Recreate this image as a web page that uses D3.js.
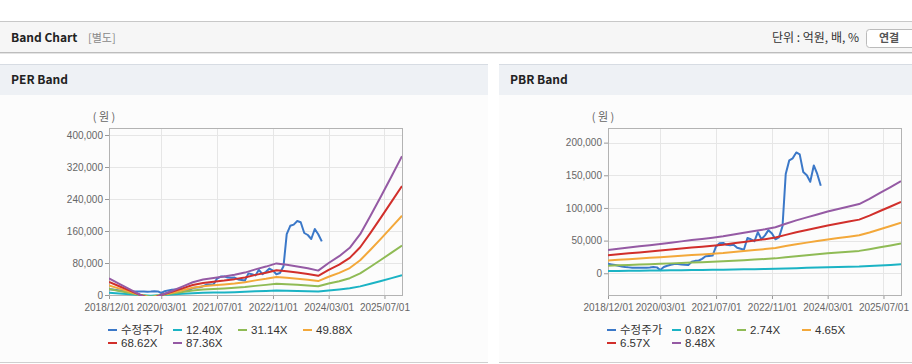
<!DOCTYPE html>
<html>
<head>
<meta charset="utf-8">
<script src="https://cdn.jsdelivr.net/npm/d3@7"></script>
<style>
  body { margin: 0; background: #fff; }
  svg { display: block; }
  .tick text { font-family: "Liberation Sans", "DejaVu Sans", sans-serif; font-size: 10px; fill: #666; }
  .tick line { stroke: #999; }
</style>
</head>
<body>
<svg id="page" width="912" height="364"></svg>
<script>
// ── Data ──────────────────────────────────────────────────────────────────
const BAND_MONTHS = [
  '2018-12','2019-03','2019-06','2019-09','2019-12','2020-03','2020-06','2020-09',
  '2020-12','2021-03','2021-06','2021-09','2021-12','2022-03','2022-06','2022-09',
  '2022-12','2023-03','2023-06','2023-09','2023-12','2024-03','2024-06','2024-09',
  '2024-12','2025-03','2025-06','2025-09','2025-12',
];

// EPS (원) behind the PER band lines
const PER_EPS = [
  477, 318, 159, 0, -137, 0, 114, 240,
  366, 441, 486, 527, 578, 641, 733, 813,
  904, 864, 818, 767, 698, 916, 1110, 1351,
  1740, 2266, 2827, 3400, 3972,
];
const PER_MULTIPLES = [12.40, 31.14, 49.88, 68.62, 87.36];

// BPS (원) behind the PBR band lines
const PBR_BPS = [
  4210, 4422, 4646, 4858, 5071, 5295, 5519, 5755,
  5991, 6203, 6427, 6663, 6981, 7300, 7630, 7948,
  8314, 8939, 9552, 10083, 10613, 11144, 11592, 12052,
  12500, 13443, 14505, 15566, 16627,
];
const PBR_MULTIPLES = [0.82, 2.74, 4.65, 6.57, 8.48];

// 수정주가, monthly from 2018-12
const PRICE_START = '2018-12';
const PRICE = [
  14500, 13500, 12500, 11500, 10500, 9500, 9000, 8500, 8500, 8500,
  8600, 8400, 8800, 9500, 9000, 5000, 9500, 11500, 13000, 14000,
  14200, 13500, 13000, 12800, 17500, 19000, 19500, 22000, 26000, 26500,
  27000, 41000, 46000, 46500, 43500, 43000, 43500, 39000, 37500, 36000,
  54000, 52000, 49000, 63000, 52000, 58000, 66000, 61000, 52000, 55000,
  72000, 152000, 173000, 176000, 185000, 182000, 155000, 150000, 140000, 165000,
  152000, 134000,
];

const X_TICKS = ['2018/12/01','2020/03/01','2021/07/01','2022/11/01','2024/03/01','2025/07/01'];
const PER_Y_TICKS = [0, 80000, 160000, 240000, 320000, 400000];
const PBR_Y_TICKS = [0, 50000, 100000, 150000, 200000];

const COLORS = ['#3b78c8', '#1bb3c4', '#8fbb55', '#f3a83a', '#d12f2b', '#955aa4'];

// ── Page chrome ──────────────────────────────────────────────────────────
const W = 912;
const svg = d3.select('#page');
const KR = '"Noto Sans CJK KR", "Noto Sans", sans-serif';
const LAT = '"Liberation Sans", "Noto Sans CJK KR", sans-serif';

svg.append('rect').attr('x', 0).attr('y', 21).attr('width', W).attr('height', 31).attr('fill', '#f6f6f6');
svg.append('line').attr('x1', 0).attr('x2', W).attr('y1', 21.5).attr('y2', 21.5).attr('stroke', '#c8c8c8');
svg.append('line').attr('x1', 0).attr('x2', W).attr('y1', 52.5).attr('y2', 52.5).attr('stroke', '#bdbdbd');
svg.append('line').attr('x1', 0).attr('x2', W).attr('y1', 53.5).attr('y2', 53.5).attr('stroke', '#e4e4e4');

svg.append('text').attr('x', 11).attr('y', 42).text('Band Chart')
  .style('font-family', KR).style('font-size', '12px').style('font-weight', 700).attr('fill', '#222');
svg.append('text').attr('x', 88).attr('y', 42).text('[별도]')
  .style('font-family', KR).style('font-size', '11px').attr('fill', '#888');
svg.append('text').attr('x', 859).attr('y', 42).attr('text-anchor', 'end').text('단위 : 억원, 배, %')
  .style('font-family', KR).style('font-size', '12px').attr('fill', '#333');
svg.append('rect').attr('x', 866.5).attr('y', 29.5).attr('width', 49).attr('height', 18).attr('rx', 3)
  .attr('fill', '#fff').attr('stroke', '#bbb');
svg.append('text').attr('x', 889).attr('y', 42).attr('text-anchor', 'middle').text('연결')
  .style('font-family', KR).style('font-size', '11px').style('font-weight', 700).attr('fill', '#555');

// ── Band panel ───────────────────────────────────────────────────────────
const parseMonth = d3.timeParse('%Y-%m');
const parseTick = d3.timeParse('%Y/%m/%d');
const fmtTick = d3.timeFormat('%Y/%m/%d');

function drawPanel(id, x0, pw, title, base, multiples, yDomain, yTicks) {
  const g = svg.append('g');

  g.append('rect').attr('x', x0).attr('y', 95).attr('width', pw).attr('height', 267).attr('fill', '#fcfcfc');
  g.append('rect').attr('x', x0).attr('y', 64).attr('width', pw).attr('height', 31).attr('fill', '#eef1f5');
  g.append('line').attr('x1', x0).attr('x2', x0 + pw).attr('y1', 64.5).attr('y2', 64.5).attr('stroke', '#d7dce3');
  g.append('line').attr('x1', x0).attr('x2', x0 + pw).attr('y1', 362.5).attr('y2', 362.5).attr('stroke', '#cfcfcf');
  g.append('text').attr('x', x0 + 11).attr('y', 84).text(title)
    .style('font-family', KR).style('font-size', '12px').style('font-weight', 700).attr('fill', '#222');

  const L = x0 + 109, R = x0 + 402, T = 128, B = 295;

  const x = d3.scaleTime()
    .domain([parseMonth('2018-12'), parseMonth('2025-12')])
    .range([L, R]);
  const y = d3.scaleLinear().domain(yDomain).range([B, T]);
  const xTicks = X_TICKS.map(parseTick);

  // grid
  g.append('g').selectAll('line').data(yTicks).join('line')
    .attr('x1', L).attr('x2', R).attr('y1', d => Math.round(y(d)) + 0.5).attr('y2', d => Math.round(y(d)) + 0.5)
    .attr('stroke', '#e6e6e6');
  g.append('g').selectAll('line').data(xTicks.slice(1)).join('line')
    .attr('x1', d => Math.round(x(d)) + 0.5).attr('x2', d => Math.round(x(d)) + 0.5).attr('y1', T).attr('y2', B)
    .attr('stroke', '#e6e6e6');

  // axes
  const yAxis = g.append('g').attr('transform', `translate(${L},0)`)
    .call(d3.axisLeft(y).tickValues(yTicks).tickSize(4).tickPadding(2).tickFormat(d3.format(',')));
  yAxis.select('.domain').remove();
  const xAxis = g.append('g').attr('transform', `translate(0,${B})`)
    .call(d3.axisBottom(x).tickValues(xTicks).tickSize(4).tickPadding(5).tickFormat(fmtTick));
  xAxis.select('.domain').remove();

  g.append('rect').attr('x', L + 0.5).attr('y', T + 0.5).attr('width', R - L).attr('height', B - T)
    .attr('fill', 'none').attr('stroke', '#b3b3b3');

  g.append('text').attr('x', L - 5).attr('y', 121).attr('text-anchor', 'middle').text('( 원 )')
    .style('font-family', KR).style('font-size', '11px').attr('fill', '#666');

  // lines
  g.append('clipPath').attr('id', id + '-clip')
    .append('rect').attr('x', L).attr('y', T).attr('width', R - L).attr('height', B - T + 1);
  const plot = g.append('g').attr('clip-path', `url(#${id}-clip)`);

  const line = d3.line().x(d => x(d.date)).y(d => y(d.value));
  const start = parseMonth(PRICE_START);
  const priceData = PRICE.map((v, i) => ({ date: d3.timeMonth.offset(start, i), value: v }));

  const series = [{ name: '수정주가', data: priceData }].concat(
    multiples.map(m => ({
      name: m.toFixed(2) + 'X',
      data: BAND_MONTHS.map((s, i) => ({ date: parseMonth(s), value: base[i] * m })),
    }))
  );

  series.forEach((s, i) => {
    plot.append('path').datum(s.data)
      .attr('fill', 'none')
      .attr('stroke', COLORS[i])
      .attr('stroke-width', 2)
      .attr('stroke-linejoin', 'round')
      .attr('d', line);
  });

  // legend
  const lg = g.append('g');
  series.forEach((s, i) => {
    const col = i % 4, row = Math.floor(i / 4);
    const lx = x0 + 108 + col * 65, ly = 330 + row * 13;
    lg.append('line').attr('x1', lx).attr('x2', lx + 9).attr('y1', ly).attr('y2', ly)
      .attr('stroke', COLORS[i]).attr('stroke-width', 2);
    lg.append('text').attr('x', lx + 13).attr('y', ly).attr('dy', '0.36em').text(s.name)
      .style('font-family', LAT).style('font-size', '11.5px').attr('fill', '#333');
  });
}

drawPanel('per', 0, 488, 'PER Band', PER_EPS, PER_MULTIPLES, [0, 417500], PER_Y_TICKS);
drawPanel('pbr', 499, 413, 'PBR Band', PBR_BPS, PBR_MULTIPLES, [-33300, 222400], PBR_Y_TICKS);
</script>
</body>
</html>
